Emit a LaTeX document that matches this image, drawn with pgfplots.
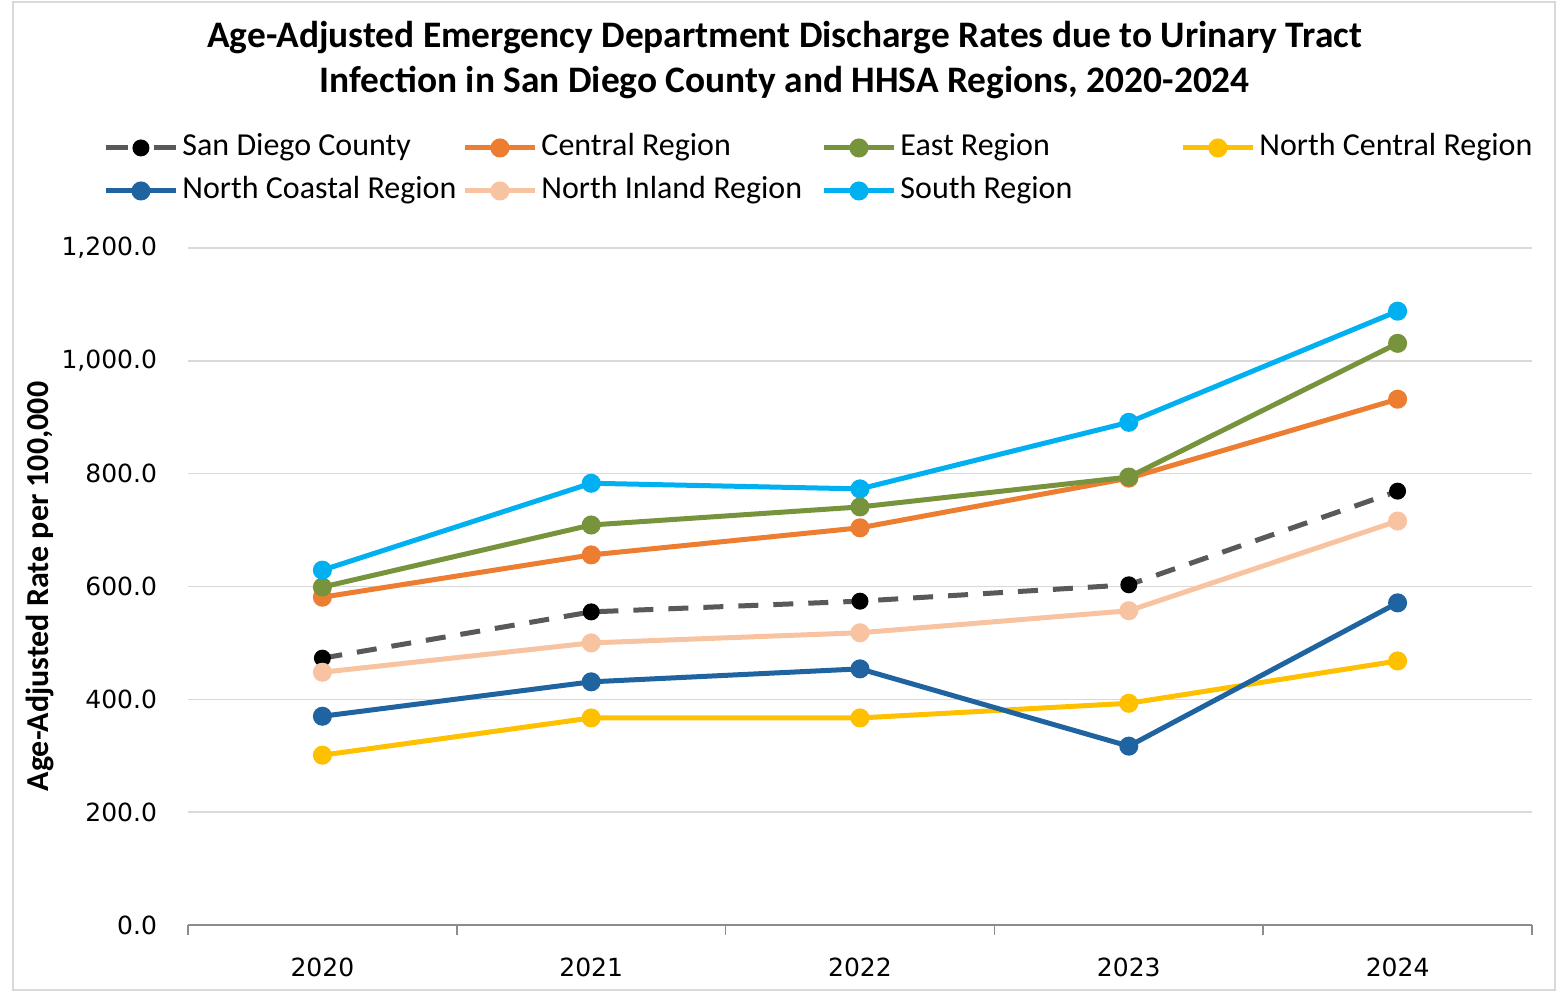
\documentclass[border=0pt]{standalone}
\usepackage{fontspec}
\setmainfont{Carlito}
\newfontfamily\dejavu{DejaVu Sans}
\usepackage{pgfplots}
\usepackage{pgfplotstable}
\pgfplotsset{compat=1.18}

\definecolor{sdgray}{HTML}{595959}
\definecolor{central}{HTML}{ED7D31}
\definecolor{east}{HTML}{77933C}
\definecolor{ncentral}{HTML}{FFC000}
\definecolor{ncoastal}{HTML}{1F64A0}
\definecolor{ninland}{HTML}{F8C3A0}
\definecolor{south}{HTML}{00B0F0}
\definecolor{gridgray}{HTML}{D9D9D9}
\definecolor{axisgray}{HTML}{8C8C8C}

% fixed-width legend cells so the four columns line up
\newcommand\legcell[1]{\makebox[138pt][l]{#1}}

% rates per 100,000, x = 0..4 for 2020..2024
\pgfplotstableread{
yr sd  central east ncentral ncoastal ninland south
0  473 581     599  301      370      448     629
1  555 656     709  367      431      500     783
2  574 704     741  367      454      518     773
3  603 792     794  393      317      557     891
4  769 932     1031 468      571      716     1088
}\rates

\begin{document}
\begin{tikzpicture}
\useasboundingbox (-94pt,-34.5pt) rectangle (687pt,462.5pt);
\draw[gridgray, line width=0.6pt] (-87.5pt,-32.5pt) rectangle (683.5pt,461.5pt);
\begin{axis}[
    at={(0,0)}, anchor=south west,
    scale only axis,
    width=672pt, height=338.5pt,
    xmin=-0.5, xmax=4.5,
    ymin=0, ymax=1200,
    ytick={0,200,...,1200},
    xtick={0,...,4},
    xticklabels={2020,2021,2022,2023,2024},
    minor xtick={-0.5,0.5,...,4.5},
    major tick length=0pt,
    minor tick length=5pt,
    tick align=outside,
    axis lines*=left,
    y axis line style={draw=none},
    x axis line style={draw=axisgray, line width=0.8pt, -},
    every minor tick/.style={draw=axisgray, line width=0.8pt},
    ymajorgrids,
    grid style={draw=gridgray, line width=0.8pt},
    /pgf/number format/assume math mode=true,
    yticklabel={\pgfmathprintnumber[fixed,fixed zerofill,precision=1,1000 sep={,}]{\tick}},
    ticklabel style={font=\dejavu\fontsize{12.5}{15}\selectfont},
    yticklabel style={anchor=east, xshift=-12pt},
    xticklabel style={anchor=center, yshift=-21pt},
    ylabel={Age-Adjusted Rate per 100,000},
    ylabel style={font=\bfseries\fontsize{16}{19}\selectfont, at={(axis description cs:-0.110,0.5)}, anchor=center},
    title={Age-Adjusted Emergency Department Discharge Rates due to Urinary Tract\\Infection in San Diego County and HHSA Regions, 2020-2024},
    title style={font=\bfseries\fontsize{18.7}{22.5}\selectfont, align=center, at={(0.444,1)}, anchor=center, yshift=88pt},
    legend columns=4,
    legend cell align=left,
    legend style={at={(-0.0632,1.116)}, anchor=west, draw=none, fill=none,
        inner xsep=0pt, inner ysep=0pt, column sep=0pt, row sep=0pt,
        font=\fontsize{16}{19}\selectfont,
        nodes={text height=11pt, text depth=3.5pt, inner ysep=3.5pt}},
    legend image code/.code={\draw[mark repeat=2,mark phase=2] plot coordinates {(0pt,0pt) (17.5pt,0pt) (35pt,0pt)};},
    every axis plot/.append style={line width=2.5pt, mark=*, mark size=3.5pt},
]
\addplot[sdgray, dash pattern=on 10pt off 7.5pt, mark options={solid, fill=black, draw=black, scale=0.85},
    legend image post style={dash pattern=on 11pt off 13pt}] table[x=yr,y=sd] \rates;
\addlegendentry{\legcell{San Diego County}}
\addplot[central, mark options={fill=central}] table[x=yr,y=central] \rates;
\addlegendentry{\legcell{Central Region}}
\addplot[east, mark options={fill=east}] table[x=yr,y=east] \rates;
\addlegendentry{\legcell{East Region}}
\addplot[ncentral, mark options={fill=ncentral}] table[x=yr,y=ncentral] \rates;
\addlegendentry{\legcell{North Central Region}}
\addplot[ncoastal, mark options={fill=ncoastal}] table[x=yr,y=ncoastal] \rates;
\addlegendentry{\legcell{North Coastal Region}}
\addplot[ninland, mark options={fill=ninland}] table[x=yr,y=ninland] \rates;
\addlegendentry{\legcell{North Inland Region}}
\addplot[south, mark options={fill=south}] table[x=yr,y=south] \rates;
\addlegendentry{\legcell{South Region}}
\end{axis}
\end{tikzpicture}
\end{document}
